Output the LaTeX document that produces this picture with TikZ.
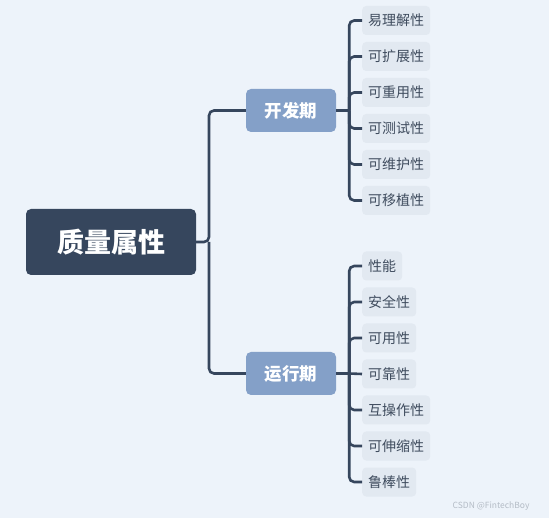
\documentclass[tikz,border=0pt]{standalone}
\usepackage{fontspec}
\setmainfont{Noto Sans CJK SC}
\usetikzlibrary{positioning}
\definecolor{bgC}{HTML}{EDF3FA}
\definecolor{rootC}{HTML}{36465D}
\definecolor{brC}{HTML}{84A0C8}
\definecolor{leafC}{HTML}{E2E9F1}
\definecolor{leafT}{HTML}{3F4C5E}
\definecolor{wmC}{HTML}{B4BCC6}
\tikzset{
  root/.style={fill=rootC, rounded corners=5pt, minimum width=170pt, minimum height=66pt,
    text=white, font=\fontsize{27}{30}\selectfont\bfseries, inner sep=0pt},
  br/.style={fill=brC, rounded corners=5pt, minimum width=90pt, minimum height=43pt,
    text=white, font=\fontsize{17.5}{20}\selectfont\bfseries, inner sep=0pt},
  leaf/.style={fill=leafC, rounded corners=4pt, minimum height=29pt, inner xsep=6pt,
    text=leafT, font=\fontsize{14}{16}\selectfont, anchor=west},
  link/.style={draw=rootC, line width=2.6pt, rounded corners=5pt},
}
\begin{document}
\begin{tikzpicture}[x=1pt, y=-1pt]
\useasboundingbox[fill=bgC] (0,0) rectangle (549,518);

% ── root and the two phases ─────────────────────────────────────────────────
\node[root] (q) at (111,242) {质量属性};
\node[br] (dev) at (291,110.5) {开发期};
\node[br] (run) at (291,373.5) {运行期};
\coordinate (qj) at (209,242);
\draw[link] (q.east) -- (qj) |- (dev.west);
\draw[link] (qj) |- (run.west);

% ── development-time qualities ──────────────────────────────────────────────
\node[leaf] (d1) at (362,20.5) {易理解性};
\node[leaf] (d2) at (362,56.5) {可扩展性};
\node[leaf] (d3) at (362,92.5) {可重用性};
\node[leaf] (d4) at (362,128.5) {可测试性};
\node[leaf] (d5) at (362,164.5) {可维护性};
\node[leaf] (d6) at (362,200.5) {可移植性};
\coordinate[right=13pt of dev.east] (dj);
\draw[link] (dev.east) -- (dj);
\draw[link] (dj) |- (d1.west);
\draw[link] (dj) |- (d2.west);
\draw[link] (dj) |- (d3.west);
\draw[link] (dj) |- (d4.west);
\draw[link] (dj) |- (d5.west);
\draw[link] (dj) |- (d6.west);

% ── run-time qualities ──────────────────────────────────────────────────────
\node[leaf] (r1) at (362,266) {性能};
\node[leaf] (r2) at (362,302) {安全性};
\node[leaf] (r3) at (362,338) {可用性};
\node[leaf] (r4) at (362,374) {可靠性};
\node[leaf] (r5) at (362,410) {互操作性};
\node[leaf] (r6) at (362,446) {可伸缩性};
\node[leaf] (r7) at (362,482) {鲁棒性};
\coordinate[right=13pt of run.east] (rj);
\draw[link] (run.east) -- (rj);
\draw[link] (rj) |- (r1.west);
\draw[link] (rj) |- (r2.west);
\draw[link] (rj) |- (r3.west);
\draw[link] (rj) -- (r4.west);
\draw[link] (rj) |- (r5.west);
\draw[link] (rj) |- (r6.west);
\draw[link] (rj) |- (r7.west);

% watermark
\node[text=wmC, font=\fontsize{8.5}{10}\selectfont, anchor=east] (wm) at (533,506) {CSDN @FintechBoy};

\end{tikzpicture}
\end{document}
